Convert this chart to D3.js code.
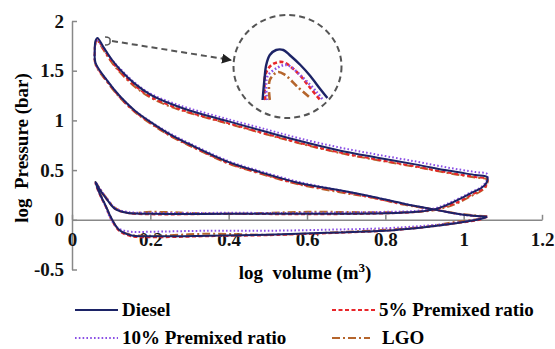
<!DOCTYPE html>
<html>
<head>
<meta charset="utf-8">
<script src="https://cdn.jsdelivr.net/npm/d3@7"></script>
<style>
  body { margin: 0; background: #fff; }
</style>
</head>
<body>
<svg id="chart" width="555" height="349"></svg>
<script>
// log volume along the cycle (compression -> peak -> expansion -> blowdown -> exhaust -> intake)
const cycleV = [
  1.06, 1.00, 0.93, 0.85, 0.77, 0.68, 0.58, 0.48, 0.40, 0.30, 0.25, 0.20, 0.16, 0.123, 0.09, 0.06,
  0.058, 0.060, 0.065,
  0.08, 0.10, 0.123, 0.16, 0.20, 0.25, 0.30, 0.40, 0.50, 0.58, 0.68, 0.78, 0.88, 0.96, 1.03, 1.06,
  1.058, 1.045, 1.02, 0.98, 0.93, 0.88, 0.80,
  0.60, 0.40, 0.20, 0.14, 0.11, 0.09, 0.07, 0.06,
  0.07, 0.085, 0.10, 0.12, 0.15,
  0.20, 0.35, 0.50, 0.65, 0.80, 0.90, 0.98, 1.04, 1.06
];

// log pressure for each fuel
const dieselP = [
  0.03, 0.05, 0.10, 0.16, 0.23, 0.30, 0.37, 0.48, 0.58, 0.76, 0.86, 0.985, 1.10, 1.24, 1.40, 1.58,
  1.70, 1.80, 1.83,
  1.74, 1.62, 1.51, 1.37, 1.26, 1.17, 1.10, 0.99, 0.88, 0.795, 0.70, 0.625, 0.555, 0.495, 0.45, 0.43,
  0.37, 0.32, 0.27, 0.19, 0.11, 0.08, 0.065,
  0.06, 0.06, 0.06, 0.07, 0.11, 0.20, 0.31, 0.38,
  0.27, 0.15, 0.02, -0.10, -0.155,
  -0.165, -0.16, -0.15, -0.13, -0.11, -0.075, -0.035, 0.005, 0.03
];
const premix5P = [
  0.03, 0.05, 0.10, 0.155, 0.22, 0.29, 0.36, 0.47, 0.57, 0.75, 0.85, 0.975, 1.09, 1.23, 1.39, 1.57,
  1.68, 1.78, 1.81,
  1.72, 1.60, 1.49, 1.35, 1.24, 1.15, 1.08, 0.97, 0.86, 0.775, 0.68, 0.605, 0.535, 0.475, 0.43, 0.41,
  0.35, 0.30, 0.25, 0.17, 0.11, 0.08, 0.065,
  0.055, 0.06, 0.055, 0.07, 0.11, 0.20, 0.31, 0.37,
  0.26, 0.14, 0.01, -0.11, -0.165,
  -0.175, -0.165, -0.155, -0.135, -0.11, -0.075, -0.035, 0.0, 0.03
];
const premix10P = [
  0.03, 0.05, 0.10, 0.16, 0.23, 0.30, 0.38, 0.49, 0.59, 0.77, 0.87, 0.99, 1.10, 1.24, 1.40, 1.57,
  1.68, 1.77, 1.80,
  1.73, 1.62, 1.52, 1.38, 1.27, 1.185, 1.12, 1.01, 0.905, 0.82, 0.73, 0.655, 0.585, 0.525, 0.48, 0.46,
  0.39, 0.33, 0.28, 0.20, 0.12, 0.09, 0.08,
  0.07, 0.07, 0.07, 0.08, 0.12, 0.21, 0.32, 0.38,
  0.27, 0.14, 0.0, -0.09, -0.12,
  -0.12, -0.11, -0.11, -0.10, -0.085, -0.06, -0.03, 0.01, 0.03
];
const lgoP = [
  0.035, 0.055, 0.10, 0.15, 0.22, 0.28, 0.355, 0.465, 0.565, 0.745, 0.845, 0.97, 1.085, 1.225, 1.385, 1.56,
  1.67, 1.77, 1.80,
  1.71, 1.59, 1.48, 1.34, 1.23, 1.14, 1.075, 0.965, 0.855, 0.77, 0.675, 0.60, 0.53, 0.47, 0.425, 0.405,
  0.34, 0.29, 0.24, 0.16, 0.10, 0.08, 0.075,
  0.08, 0.06, 0.08, 0.07, 0.12, 0.21, 0.32, 0.38,
  0.28, 0.15, 0.02, -0.10, -0.15,
  -0.16, -0.14, -0.15, -0.13, -0.10, -0.07, -0.02, 0.01, 0.035
];

// magnified peak shown in the dashed circle
const insetDiesel = [[0.064,1.60],[0.066,1.70],[0.068,1.775],[0.072,1.825],[0.079,1.85],[0.087,1.85],[0.094,1.825],[0.106,1.775],[0.117,1.72],[0.128,1.655],[0.136,1.61]];
const insetPremix5 = [[0.067,1.60],[0.067,1.725],[0.074,1.775],[0.086,1.79],[0.102,1.74],[0.117,1.66],[0.128,1.60]];
const insetPremix10 = [[0.069,1.60],[0.069,1.715],[0.080,1.76],[0.091,1.775],[0.108,1.715],[0.124,1.64],[0.131,1.60]];
const insetLGO = [[0.072,1.60],[0.072,1.70],[0.081,1.74],[0.089,1.725],[0.103,1.665],[0.117,1.61]];

const xTicks = [0, 0.2, 0.4, 0.6, 0.8, 1, 1.2];
const yTicks = [-0.5, 0, 0.5, 1, 1.5, 2];

const series = [
  {name: 'LGO', p: lgoP, inset: insetLGO, color: '#b5652c', dash: '8,3,2,3'},
  {name: '5% Premixed ratio', p: premix5P, inset: insetPremix5, color: '#e8262a', dash: '4,2.5'},
  {name: '10% Premixed ratio', p: premix10P, inset: insetPremix10, color: '#8a4fe6', dash: '1.6,2.2'},
  {name: 'Diesel', p: dieselP, inset: insetDiesel, color: '#1c2366', dash: null}
];

const FONT = '"Liberation Serif", "Times New Roman", "DejaVu Serif", serif';

const svg = d3.select('#chart');
const x = d3.scaleLinear().domain([0, 1.2]).range([72, 542]);
const y = d3.scaleLinear().domain([-0.5, 2]).range([269.5, 21]);
const axisColor = '#888';

// y axis (ticks point inwards)
const yAxis = svg.append('g')
  .attr('transform', 'translate(' + x(0) + ',0)')
  .call(d3.axisLeft(y).tickValues(yTicks).tickSize(-5).tickSizeOuter(0).tickPadding(8)
    .tickFormat(d => d));
// x axis sits on log P = 0
const xAxis = svg.append('g')
  .attr('transform', 'translate(0,' + y(0) + ')')
  .call(d3.axisBottom(x).tickValues(xTicks).tickSize(-5).tickSizeOuter(0).tickPadding(13)
    .tickFormat(d => d));

[xAxis, yAxis].forEach(a => {
  a.attr('font-family', null).attr('font-size', null);
  a.selectAll('path, line').attr('stroke', axisColor).attr('stroke-width', 1.5);
  a.selectAll('text').attr('fill', '#111');
});

// curves
const line = d3.line()
  .x(d => x(d[0]))
  .y(d => y(d[1]))
  .curve(d3.curveCatmullRom.alpha(0.5));

series.forEach(s => {
  const pts = cycleV.map((v, i) => [v, s.p[i]]);
  svg.append('path')
    .attr('d', line(pts))
    .attr('fill', 'none')
    .attr('stroke', s.color)
    .attr('stroke-width', 2)
    .attr('stroke-dasharray', s.dash);
});

// inset: dashed circle + arrow from the peak
svg.append('ellipse')
  .attr('cx', 287.5).attr('cy', 66.5).attr('rx', 54).attr('ry', 51.5)
  .attr('fill', '#fdfdfd')
  .attr('stroke', '#555').attr('stroke-width', 2).attr('stroke-dasharray', '6,4');

const ix = d3.scaleLinear().domain([0.05, 0.15]).range([250, 340]);
const iy = d3.scaleLinear().domain([1.6, 1.9]).range([100, 40]);
const insetLine = d3.line().x(d => ix(d[0])).y(d => iy(d[1])).curve(d3.curveCatmullRom.alpha(0.5));
series.forEach(s => {
  svg.append('path')
    .attr('d', insetLine(s.inset))
    .attr('fill', 'none')
    .attr('stroke', s.color)
    .attr('stroke-width', s.dash ? 2.6 : 2.4)
    .attr('stroke-dasharray', s.dash);
});

svg.append('defs').append('marker')
  .attr('id', 'arrow')
  .attr('viewBox', '0 0 10 10')
  .attr('refX', 9).attr('refY', 5)
  .attr('markerWidth', 5).attr('markerHeight', 5)
  .attr('orient', 'auto')
  .append('path').attr('d', 'M0,0L10,5L0,10z').attr('fill', '#222');

svg.append('path')
  .attr('d', 'M105,37 Q111,37 110,41 Q111,45 105,45')
  .attr('fill', 'none').attr('stroke', '#555').attr('stroke-width', 1.5);
svg.append('line')
  .attr('x1', 112).attr('y1', 41).attr('x2', 231).attr('y2', 60)
  .attr('stroke', '#555').attr('stroke-width', 2).attr('stroke-dasharray', '6,4')
  .attr('marker-end', 'url(#arrow)');

// axis titles
svg.append('text')
  .attr('x', 305).attr('y', 279)
  .attr('text-anchor', 'middle')
  .html('log&#160; volume (m<tspan dy="-7" style="font-size:13px">3</tspan><tspan dy="7">)</tspan>');

svg.append('text')
  .attr('transform', 'translate(28,148) rotate(-90)')
  .attr('text-anchor', 'middle')
  .text('log\u00a0 Pressure (bar)');

// legend
const legendItems = [
  {s: series[3], x: 75, y: 310, w: 43},
  {s: series[1], x: 332, y: 310, w: 43},
  {s: series[2], x: 75, y: 338, w: 43},
  {s: series[0], x: 332, y: 338, w: 38}
];
legendItems.forEach(it => {
  svg.append('line')
    .attr('x1', it.x).attr('x2', it.x + it.w)
    .attr('y1', it.y).attr('y2', it.y)
    .attr('stroke', it.s.color).attr('stroke-width', 2)
    .attr('stroke-dasharray', it.s.dash);
  svg.append('text')
    .attr('x', it.x + it.w + (it.s.name === 'LGO' ? 12 : 4))
    .attr('y', it.y + 6)
    .text(it.s.name);
});

svg.selectAll('text')
  .style('font-family', FONT)
  .style('font-weight', 'bold')
  .style('font-size', '19px');
svg.selectAll('tspan').filter(function() { return this.getAttribute('dy') === '-7'; })
  .style('font-size', '13px');
</script>
</body>
</html>
